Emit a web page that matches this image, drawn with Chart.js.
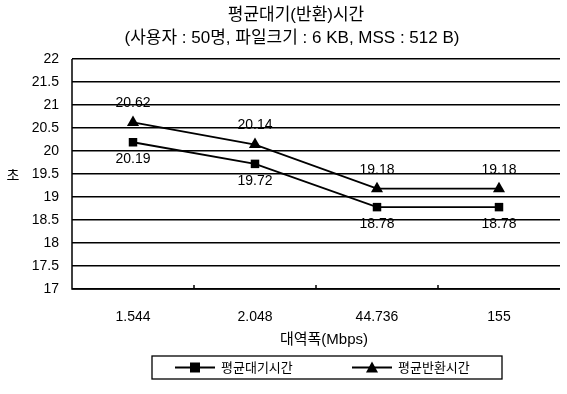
<!DOCTYPE html>
<html><head><meta charset="utf-8">
<script src="https://cdn.jsdelivr.net/npm/chart.js@4/dist/chart.umd.min.js"></script>
<style>html,body{margin:0;padding:0;background:#fff}#wrap{width:567px;height:394px}</style>
</head><body><div id="wrap"><canvas id="c" width="567" height="394"></canvas></div>
<script>
const titleLines = ['평균대기(반환)시간', '(사용자 : 50명, 파일크기 : 6 KB, MSS : 512 B)'];
const categories = ['1.544', '2.048', '44.736', '155'];
const waitTime = [20.19, 19.72, 18.78, 18.78];
const turnaroundTime = [20.62, 20.14, 19.18, 19.18];
const seriesNames = ['평균대기시간', '평균반환시간'];
const yTicks = [17, 17.5, 18, 18.5, 19, 19.5, 20, 20.5, 21, 21.5, 22];
const yTitle = '초';
const xTitle = '대역폭(Mbps)';

const FONT = '"Liberation Sans", Arial, "Noto Sans CJK KR", sans-serif';

const overlay = {
  id: 'overlay',
  afterDraw(chart) {
    const ctx = chart.ctx, a = chart.chartArea;
    const xs = chart.scales.x;
    ctx.save();
    ctx.strokeStyle = '#000'; ctx.lineWidth = 1.5;
    ctx.beginPath();
    ctx.moveTo(a.left, a.top); ctx.lineTo(a.left, a.bottom); ctx.lineTo(a.right, a.bottom);
    ctx.stroke();
    for (let i = 1; i < categories.length; i++) {
      const x = (xs.getPixelForValue(i - 1) + xs.getPixelForValue(i)) / 2;
      ctx.beginPath(); ctx.moveTo(x, a.bottom); ctx.lineTo(x, a.bottom - 4); ctx.stroke();
    }
    ctx.fillStyle = '#000';
    ctx.textAlign = 'center'; ctx.textBaseline = 'middle';
    ctx.font = '17px ' + FONT;
    ctx.fillText(titleLines[0], 296, 15);
    ctx.fillText(titleLines[1], 292, 38);
    ctx.font = '14px ' + FONT;
    ctx.fillText(yTitle, 13, 176);
    ctx.font = '15px ' + FONT;
    ctx.fillText(xTitle, 324, 340);
    ctx.font = '14px ' + FONT;
    const m0 = chart.getDatasetMeta(0), m1 = chart.getDatasetMeta(1);
    m0.data.forEach((p, i) => ctx.fillText(waitTime[i].toFixed(2), p.x, p.y + 17));
    m1.data.forEach((p, i) => ctx.fillText(turnaroundTime[i].toFixed(2), p.x, p.y - 19));
    // legend
    const lx = 152, ly = 356, lw = 350, lh = 23;
    ctx.lineWidth = 1.3; ctx.strokeStyle = '#000';
    ctx.strokeRect(lx, ly, lw, lh);
    const cy = ly + lh / 2;
    const items = [{x: 175, style: 'rect'}, {x: 352, style: 'triangle'}];
    ctx.font = '13px ' + FONT; ctx.textAlign = 'left';
    items.forEach((it, k) => {
      ctx.lineWidth = 1.8;
      ctx.beginPath(); ctx.moveTo(it.x, cy); ctx.lineTo(it.x + 40, cy); ctx.stroke();
      const mx = it.x + 20;
      ctx.beginPath();
      if (it.style === 'rect') { ctx.rect(mx - 5, cy - 5, 10, 10); }
      else { ctx.moveTo(mx, cy - 6); ctx.lineTo(mx + 6, cy + 5); ctx.lineTo(mx - 6, cy + 5); ctx.closePath(); }
      ctx.fill();
      ctx.fillText(seriesNames[k], it.x + 46, cy + 1);
    });
    ctx.restore();
  }
};

new Chart(document.getElementById('c'), {
  type: 'line',
  data: {
    labels: categories,
    datasets: [
      { label: seriesNames[0], data: waitTime, borderColor: '#000', backgroundColor: '#000', borderWidth: 1.8,
        pointStyle: 'rect', pointRadius: 6, pointBorderWidth: 0, tension: 0 },
      { label: seriesNames[1], data: turnaroundTime, borderColor: '#000', backgroundColor: '#000', borderWidth: 1.8,
        pointStyle: 'triangle', pointRadius: 7, pointBorderWidth: 0, tension: 0 }
    ]
  },
  options: {
    responsive: false, animation: false, devicePixelRatio: 1,
    layout: { padding: { top: 59, right: 0, left: 0, bottom: 0 } },
    plugins: { legend: { display: false }, title: { display: false }, tooltip: { enabled: false } },
    scales: {
      x: {
        offset: true,
        grid: { display: false, offset: true },
        border: { display: false },
        ticks: { color: '#000', font: { family: FONT, size: 14 }, padding: 12, maxRotation: 0 },
        afterFit(s) { s.height = 105; }
      },
      y: {
        min: 17, max: 22,
        afterBuildTicks(s) { s.ticks = yTicks.map(v => ({ value: v })); },
        grid: { color: '#000', lineWidth: 1.5, drawTicks: false },
        border: { display: false },
        ticks: { color: '#000', font: { family: FONT, size: 14 }, padding: 13,
          callback: v => String(v) },
        afterFit(s) { s.width = 72; }
      }
    }
  },
  plugins: [overlay]
});
</script></body></html>
